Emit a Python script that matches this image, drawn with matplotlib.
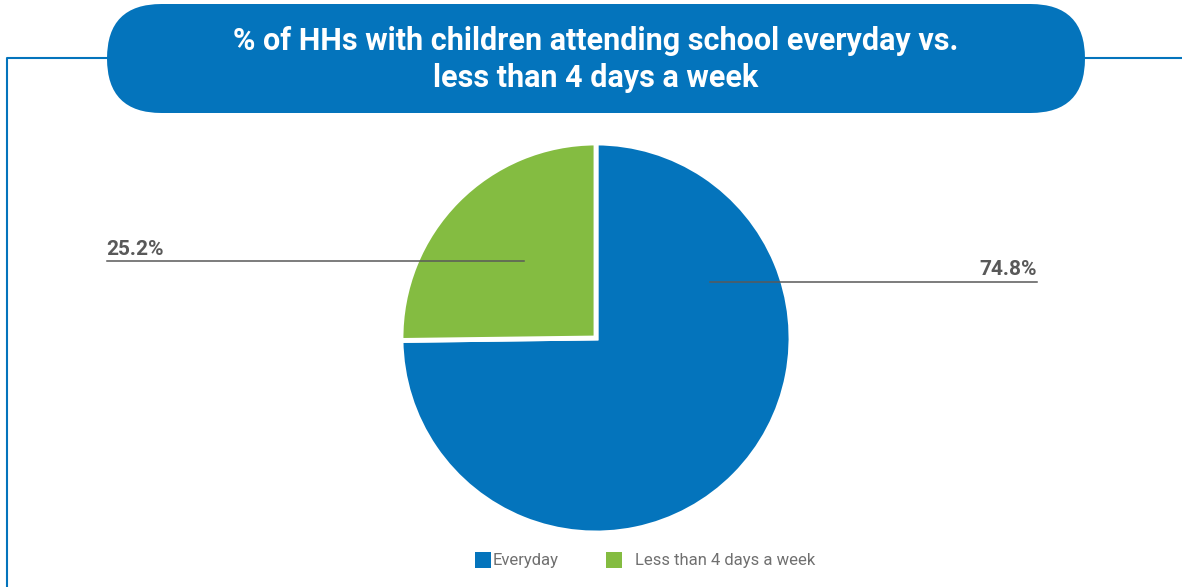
import matplotlib
matplotlib.use("Agg")
import matplotlib.pyplot as plt
from matplotlib.patches import FancyBboxPatch, Rectangle

# attendance shares (%)
categories = ["Everyday", "Less than 4 days a week"]
shares = [74.8, 25.2]
colors = ["#0474bc", "#84bc41"]
title_lines = ["% of HHs with children attending school everyday vs.",
               "less than 4 days a week"]

W, H = 1182, 587
BLUE = "#0474bc"
GREY = "#595959"


def py(y):
    # pixel row measured from the top -> data y
    return H - y


fig = plt.figure(figsize=(W / 100, H / 100), dpi=100)
ax = fig.add_axes([0, 0, 1, 1])

wedges, _ = ax.pie(shares, colors=colors, startangle=90, counterclock=False,
                   center=(596, py(338)), radius=195,
                   wedgeprops=dict(edgecolor="white", linewidth=3.5))
ax.set_xlim(0, W)
ax.set_ylim(0, H)
ax.set_aspect("auto")
ax.axis("off")

# frame around the panel
ax.plot([7, 7, 110], [py(587), py(58), py(58)], color=BLUE, lw=1.5,
        solid_capstyle="butt")
ax.plot([1080, W], [py(58), py(58)], color=BLUE, lw=1.5)

# title pill
pill = FancyBboxPatch((107, py(113)), 978, 109,
                      boxstyle="round,pad=0,rounding_size=54.5",
                      facecolor=BLUE, edgecolor="none", zorder=3)
ax.add_patch(pill)
ax.text(596, py(41), title_lines[0], ha="center", va="center", color="white",
        fontsize=22, fontweight="bold", family="Roboto", zorder=4)
ax.text(596, py(78), title_lines[1], ha="center", va="center", color="white",
        fontsize=22, fontweight="bold", family="Roboto", zorder=4)

# value labels with leader lines
ax.plot([107, 524], [py(261), py(261)], color=GREY, lw=1.1, zorder=5)
ax.text(106, py(259), f"{shares[1]:.1f}%", ha="left", va="bottom", color=GREY,
        fontsize=15, fontweight="bold", family="Roboto")
ax.plot([710, 1037], [py(282), py(282)], color=GREY, lw=1.1, zorder=5)
ax.text(1037, py(279), f"{shares[0]:.1f}%", ha="right", va="bottom", color=GREY,
        fontsize=15, fontweight="bold", family="Roboto")

# legend
legend_x = [(475, 493), (606, 635)]
for (sx, tx), name, c in zip(legend_x, categories, colors):
    ax.add_patch(Rectangle((sx, py(568)), 16, 16, facecolor=c, edgecolor="none"))
    ax.text(tx, py(560), name, ha="left", va="center", color="#707070",
            fontsize=12, family="Roboto")

fig.savefig("out.png", dpi=100)
